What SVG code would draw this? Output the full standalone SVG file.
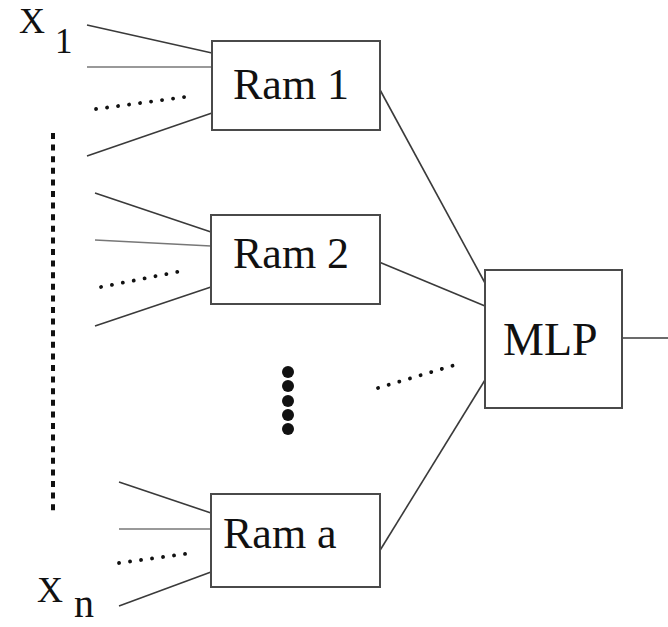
<svg xmlns="http://www.w3.org/2000/svg" width="668" height="627" viewBox="0 0 668 627">
<style>
.box{fill:#fff;stroke:#4a4a4a;stroke-width:2}
.lbl{font-family:"Liberation Serif","Times New Roman",serif;fill:#111}
.ln{stroke:#3a3a3a;stroke-width:1.6;fill:none}
.lg{stroke:#777;stroke-width:1.6;fill:none}
.dt{stroke:#111;stroke-width:3.8;stroke-linecap:round;stroke-dasharray:0.1 11;fill:none}
</style>
<rect width="668" height="627" fill="#fff"/>
<g id="labels">
<text class="lbl" x="19" y="33" font-size="36">X</text>
<text class="lbl" x="55" y="53" font-size="35">1</text>
<text class="lbl" x="37" y="602" font-size="36">X</text>
<text class="lbl" x="74" y="617" font-size="40">n</text>
</g>
<g id="connectors">
<line class="ln" x1="87" y1="25" x2="212" y2="53"/>
<line class="lg" x1="87" y1="67" x2="212" y2="67"/>
<line class="dt" x1="96" y1="109" x2="192" y2="96"/>
<line class="ln" x1="87" y1="156" x2="212" y2="113"/>
<line class="ln" x1="95" y1="193" x2="211" y2="232"/>
<line class="lg" x1="95" y1="240" x2="211" y2="246"/>
<line class="dt" x1="101" y1="287" x2="187" y2="270"/>
<line class="ln" x1="95" y1="326" x2="211" y2="287"/>
<line class="ln" x1="119" y1="482" x2="211" y2="513"/>
<line class="lg" x1="119" y1="529" x2="211" y2="529"/>
<line class="dt" x1="119" y1="563" x2="192" y2="553"/>
<line class="ln" x1="119" y1="606" x2="211" y2="572"/>
<line x1="53" y1="133" x2="53" y2="514" stroke="#111" stroke-width="4" stroke-dasharray="6 5.6"/>
<g fill="#111">
<circle cx="288" cy="372" r="6"/>
<circle cx="288" cy="386" r="6"/>
<circle cx="288" cy="401" r="6"/>
<circle cx="288" cy="415" r="6"/>
<circle cx="288" cy="429" r="6"/>
</g>
<line class="dt" x1="378" y1="388" x2="455" y2="365"/>
<line class="ln" x1="379" y1="88" x2="485" y2="283"/>
<line class="ln" x1="379" y1="262" x2="485" y2="306"/>
<line class="ln" x1="379" y1="552" x2="485" y2="380"/>
<line class="ln" x1="618" y1="338" x2="668" y2="338"/>
</g>
<g id="ram1">
<rect class="box" x="212" y="41" width="168" height="89"/>
<text class="lbl" x="233" y="99" font-size="44">Ram 1</text>
</g>
<g id="ram2">
<rect class="box" x="211" y="215" width="169" height="89"/>
<text class="lbl" x="233" y="268" font-size="44">Ram 2</text>
</g>
<g id="rama">
<rect class="box" x="211" y="494" width="169" height="93"/>
<text class="lbl" x="223" y="548" font-size="44">Ram a</text>
</g>
<g id="mlp">
<rect class="box" x="485" y="270" width="137" height="138"/>
<text class="lbl" x="503" y="355" font-size="46">MLP</text>
</g>
</svg>
